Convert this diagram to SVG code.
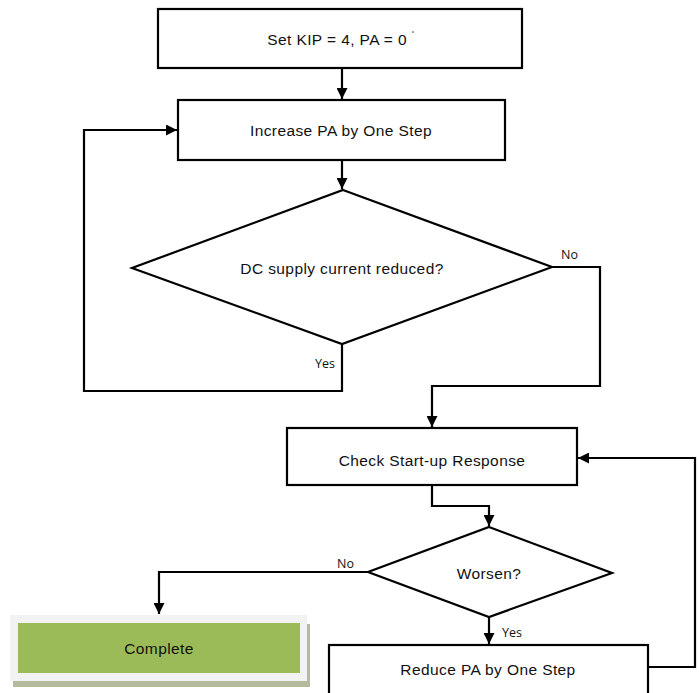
<svg xmlns="http://www.w3.org/2000/svg" width="699" height="693" viewBox="0 0 699 693">
<defs>
<style>
.box{fill:#fff;stroke:#000;stroke-width:2.2}
.t{font-family:"Liberation Sans",Arial,sans-serif;font-size:15.5px;letter-spacing:0.4px;fill:#111;text-anchor:middle;dominant-baseline:central}
.lbl{font-family:"Open Sans","Liberation Sans",sans-serif;font-size:12.5px;fill:#111}
.c{fill:none;stroke:#000;stroke-width:2.2}
</style>
<marker id="ah" viewBox="0 0 10 10" refX="10" refY="5" markerWidth="11" markerHeight="11" markerUnits="userSpaceOnUse" orient="auto">
<path d="M0,0 L10,5 L0,10 Z" fill="#000"/>
</marker>
</defs>
<rect width="699" height="693" fill="#fff"/>
<g id="connectors">
<path class="c" d="M342,68 V99" marker-end="url(#ah)"/>
<path class="c" d="M342,160 V189" marker-end="url(#ah)"/>
<path class="c" d="M342,344 V391 H84 V130 H177" marker-end="url(#ah)"/>
<path class="c" d="M552,267 H600 V386 H432 V427" marker-end="url(#ah)"/>
<path class="c" d="M432,485 V506 H489 V526" marker-end="url(#ah)"/>
<path class="c" d="M368,572 H159 V614" marker-end="url(#ah)"/>
<path class="c" d="M489,617 V644" marker-end="url(#ah)"/>
<path class="c" d="M648,667 H695 V458 H578" marker-end="url(#ah)"/>
<text class="lbl" x="561" y="259">No</text>
<text class="lbl" x="315" y="368">Yes</text>
<text class="lbl" x="337" y="568">No</text>
<text class="lbl" x="502" y="637">Yes</text>
</g>
<g id="n1">
<rect class="box" x="158" y="9" width="364" height="59"/>
<text class="t" x="341" y="39">Set KIP = 4, PA = 0 <tspan font-size="8" dy="-5">˚</tspan></text>
</g>
<g id="n2">
<rect class="box" x="178" y="100" width="327" height="60"/>
<text class="t" x="341" y="130">Increase PA by One Step</text>
</g>
<g id="n3">
<polygon class="box" points="343,190 552,267 342,344 132,268"/>
<text class="t" x="342" y="268">DC supply current reduced?</text>
</g>
<g id="n4">
<rect class="box" x="287" y="428" width="290" height="57"/>
<text class="t" x="432" y="460">Check Start-up Response</text>
</g>
<g id="n5">
<polygon class="box" points="489,527 612,573 489,617 368,572"/>
<text class="t" x="489" y="573">Worsen?</text>
</g>
<g id="n6">
<rect x="13" y="624" width="297" height="63" fill="#b3bb9f"/>
<rect x="10" y="615" width="297" height="66" fill="#f2f2f2"/>
<rect x="18" y="623" width="282" height="50" fill="#9bbb59"/>
<text class="t" x="159" y="648">Complete</text>
</g>
<g id="n7">
<rect class="box" x="329" y="645" width="319" height="60"/>
<text class="t" x="488" y="669">Reduce PA by One Step</text>
</g>
</svg>
